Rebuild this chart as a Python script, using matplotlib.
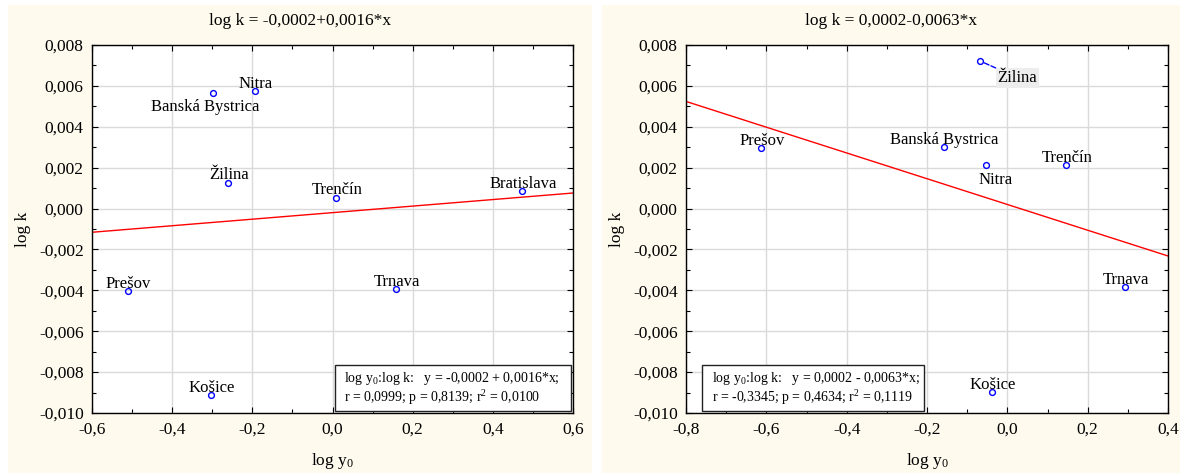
import matplotlib
matplotlib.use("Agg")
import matplotlib.pyplot as plt
from matplotlib.patches import Rectangle
from matplotlib.ticker import MultipleLocator, FuncFormatter

plt.rcParams['font.family'] = ['Liberation Serif', 'DejaVu Serif']
plt.rcParams['mathtext.fontset'] = 'custom'
plt.rcParams['mathtext.rm'] = 'Liberation Serif'
plt.rcParams['mathtext.it'] = 'Liberation Serif:italic'

# Left panel: regression log k on log y0
names_a = ["Banská Bystrica", "Nitra", "Žilina", "Trenčín", "Bratislava",
           "Prešov", "Trnava", "Košice"]
x_a = [-0.298, -0.194, -0.261, 0.009, 0.473, -0.511, 0.159, -0.304]
y_a = [0.00564, 0.00574, 0.00127, 0.00052, 0.00085, -0.00405, -0.00395, -0.00914]
fit_a = (-0.0002, 0.0016)
stats_a = "r = 0,0999; p = 0,8139; r$^2$ = 0,0100"

# Right panel
names_b = ["Žilina", "Prešov", "Banská Bystrica", "Nitra", "Trenčín",
           "Trnava", "Košice"]
x_b = [-0.068, -0.613, -0.158, -0.052, 0.147, 0.293, -0.038]
y_b = [0.00722, 0.00296, 0.00299, 0.00211, 0.00211, -0.00384, -0.00898]
fit_b = (0.0002, -0.0063)
stats_b = "r = -0,3345; p = 0,4634; r$^2$ = 0,1119"

xlim_a = (-0.6, 0.6)
xlim_b = (-0.8, 0.4)
ylim = (-0.010, 0.008)


def fmt_coef(v):
    return f"{v:.4f}".replace(".", ",")


# label offsets (points) relative to each marker: (dx, dy)
default_off = (0.5, 2.5)
offsets_a = {"Banská Bystrica": (-6.0, -13.0)}
offsets_b = {"Nitra": (6.8, -13.5), "Žilina": (27.0, -15.0)}

W, H = 1184, 475
fig = plt.figure(figsize=(W / 100, H / 100), dpi=100, facecolor="white")

cream = "#FFFAEE"
for (px0, px1) in [(8, 592), (602, 1180)]:
    fig.patches.append(Rectangle((px0 / W, 2 / H), (px1 - px0) / W, (470 - 2) / H,
                                 transform=fig.transFigure, facecolor=cream,
                                 edgecolor="none", zorder=-5))

ax_a = fig.add_axes([92 / W, (H - 413) / H, 481 / W, 368 / H])
ax_b = fig.add_axes([686 / W, (H - 413) / H, 482 / W, 368 / H])


def xfmt(v, p):
    return "0,0" if abs(v) < 1e-9 else f"{v:.1f}".replace(".", ",")


def yfmt(v, p):
    return "0,000" if abs(v) < 1e-9 else f"{v:.3f}".replace(".", ",")


def draw(ax, names, xs, ys, fit, stats, xlim, offsets, box_x, panel_center,
         special=None):
    a, b = fit
    ax.set_xlim(*xlim)
    ax.set_ylim(*ylim)
    ax.set_facecolor("white")
    ax.xaxis.set_major_locator(MultipleLocator(0.2))
    ax.xaxis.set_minor_locator(MultipleLocator(0.1))
    ax.yaxis.set_major_locator(MultipleLocator(0.002))
    ax.yaxis.set_minor_locator(MultipleLocator(0.001))
    ax.xaxis.set_major_formatter(FuncFormatter(xfmt))
    ax.yaxis.set_major_formatter(FuncFormatter(yfmt))
    ax.tick_params(which="both", direction="in", top=True, right=True,
                   labelsize=12.5, colors="black")
    ax.tick_params(which="major", length=4, width=0.8, pad=6)
    ax.tick_params(which="minor", length=3, width=0.8)
    ax.grid(True, which="major", color="#DADADA", lw=1.0)
    ax.set_axisbelow(True)
    for s in ax.spines.values():
        s.set_linewidth(1.0)
        s.set_color("black")

    ax.plot(list(xlim), [a + b * xlim[0], a + b * xlim[1]], color="red",
            lw=1.0, zorder=2)
    ax.plot(xs, ys, linestyle="none", marker="o", ms=4.2, mfc="none",
            mec="blue", mew=1.0, zorder=3)

    for n, x, y in zip(names, xs, ys):
        dx, dy = offsets.get(n, default_off)
        kw = {}
        if special is not None and n == special:
            kw = dict(bbox=dict(boxstyle="square,pad=0.12", fc="#EDEDED",
                                ec="none"),
                      arrowprops=dict(arrowstyle="-", color="blue", ls="--",
                                      lw=1.0, shrinkA=0, shrinkB=3))
        ax.annotate(n, (x, y), xytext=(dx, dy), textcoords="offset points",
                    ha="center", va="baseline", fontsize=12, zorder=4, **kw)

    ax.set_xlabel("log y$_0$", fontsize=12.5, labelpad=10)
    ax.set_ylabel("log k", fontsize=12.5, labelpad=6)

    sign = "+" if b >= 0 else "-"
    title = f"log k = {fmt_coef(a)}{sign}{fmt_coef(abs(b))}*x"
    fig.text(panel_center / W, 1 - 21 / H, title, ha="center", va="center",
             fontsize=12.5)

    x0, x1 = box_x
    ax.add_patch(Rectangle((x0, 0.006), x1 - x0, 0.124, transform=ax.transAxes,
                           facecolor="white", edgecolor="#222222", lw=1.0,
                           zorder=5))
    line1 = (f"log y$_0$:log k:   y = {fmt_coef(a)} {sign} "
             f"{fmt_coef(abs(b))}*x;")
    ax.text(x0 + 0.019, 0.095, line1, transform=ax.transAxes, fontsize=10,
            ha="left", va="center", zorder=6)
    ax.text(x0 + 0.019, 0.042, stats, transform=ax.transAxes, fontsize=10,
            ha="left", va="center", zorder=6)


draw(ax_a, names_a, x_a, y_a, fit_a, stats_a, xlim_a, offsets_a,
     (0.505, 0.996), 300)
draw(ax_b, names_b, x_b, y_b, fit_b, stats_b, xlim_b, offsets_b,
     (0.034, 0.494), 891, special="Žilina")

fig.savefig("out.png", dpi=100, facecolor="white")
